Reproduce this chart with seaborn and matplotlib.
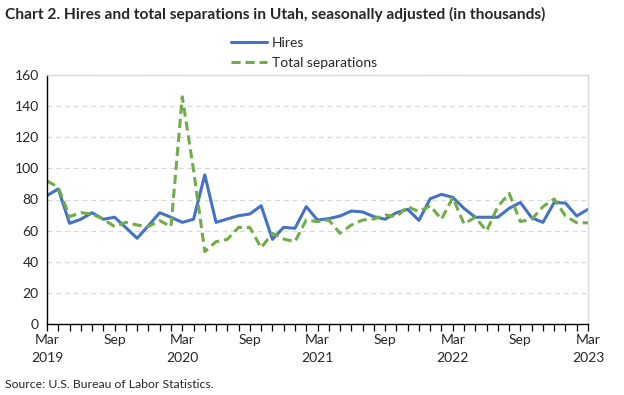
import matplotlib
matplotlib.use("Agg")
import matplotlib.pyplot as plt
import seaborn as sns
import pandas as pd
import numpy as np
from matplotlib.lines import Line2D

months = pd.date_range("2019-03-01", "2023-03-01", freq="MS")

hires = [82.5, 86.8, 64.7, 67.3, 71.5, 67.3, 68.6, 61.9, 55.1, 63.2, 71.5, 68.6,
         65.3, 67.3, 95.8, 65.3, 67.5, 69.6, 70.7, 76.0, 54.4, 62.1, 61.5, 75.4,
         66.8, 67.7, 69.4, 72.6, 72.0, 69.0, 67.3, 71.5, 73.7, 66.6, 80.5, 83.3,
         81.4, 74.3, 68.6, 68.6, 68.6, 74.3, 78.1, 68.3, 65.3, 78.1, 77.7, 69.4,
         73.7]
separations = [91.9, 87.9, 69.0, 71.5, 70.7, 67.3, 62.6, 65.3, 63.6, 62.6, 66.4, 62.6,
               146.0, 99.0, 46.5, 52.9, 54.4, 62.1, 62.0, 49.0, 58.3, 54.6, 52.9, 66.8,
               65.8, 66.8, 58.3, 63.6, 66.8, 67.5, 70.0, 69.0, 75.4, 72.2, 76.0, 67.3,
               81.2, 64.3, 68.6, 59.8, 75.4, 84.0, 65.8, 67.3, 75.4, 80.3, 69.4, 65.1,
               65.0]
series_names = ["Hires", "Total separations"]
y_ticks = [0, 20, 40, 60, 80, 100, 120, 140, 160]

df = pd.DataFrame({
    "idx": np.concatenate([np.arange(len(months))] * 2),
    "value": hires + separations,
    "series": [series_names[0]] * len(hires) + [series_names[1]] * len(separations),
})

sns.set_theme(style="white")
plt.rcParams["font.family"] = ["Lato", "DejaVu Sans"]

fig = plt.figure(figsize=(6.24, 3.95), dpi=100)
ax = fig.add_axes([47 / 624, 1 - 324 / 395, (588 - 47) / 624, (324 - 75) / 395])

palette = {"Hires": "#4472C4", "Total separations": "#70AD47"}
sns.lineplot(data=df, x="idx", y="value", hue="series", style="series",
             palette=palette, dashes={"Hires": "", "Total separations": (3, 1.6)},
             linewidth=2.2, ax=ax, legend=False)

ax.set_xlim(0, len(months) - 1)
ax.set_ylim(0, 160)
ax.set_yticks(y_ticks)
ax.set_yticklabels([str(t) for t in y_ticks], fontsize=10)
ax.yaxis.grid(True, color="#D9D9D9", linestyle=(0, (4, 3)), linewidth=0.9)
ax.set_axisbelow(True)

ax.set_xticks(np.arange(len(months)), minor=True)
major = np.arange(0, len(months), 6)
ax.set_xticks(major)
labels = []
for i in major:
    m = months[i]
    if m.month == 3:
        labels.append(f"{m.strftime('%b')}\n{m.year}")
    else:
        labels.append(m.strftime('%b'))
ax.set_xticklabels(labels, fontsize=10, linespacing=1.6)
ax.tick_params(axis="x", which="both", direction="out", length=5, width=0.9,
               color="black", bottom=True, pad=2)
ax.tick_params(axis="y", length=0, pad=6)
ax.set_xlabel("")
ax.set_ylabel("")

for s in ["left", "bottom"]:
    ax.spines[s].set_color("black")
    ax.spines[s].set_linewidth(1.0)
for s in ["top", "right"]:
    ax.spines[s].set_color("#D9D9D9")
    ax.spines[s].set_linewidth(1.0)

handles = [Line2D([], [], color=palette["Hires"], lw=2.2),
           Line2D([], [], color=palette["Total separations"], lw=2.2, linestyle=(0, (3, 1.6)))]
fig.legend(handles, series_names, loc="center", bbox_to_anchor=(304 / 624, 1 - 53 / 395),
           ncol=1, frameon=False, fontsize=10, handlelength=2.6, handletextpad=0.3,
           labelspacing=0.6)

fig.text(5 / 624, 1 - 14 / 395, "Chart 2. Hires and total separations in Utah, seasonally adjusted (in thousands)",
         fontsize=11.2, fontweight="bold", va="center", ha="left")
fig.text(5 / 624, 1 - 384 / 395, "Source: U.S. Bureau of Labor Statistics.",
         fontsize=8.8, va="center", ha="left")

fig.savefig("out.png", dpi=100)
